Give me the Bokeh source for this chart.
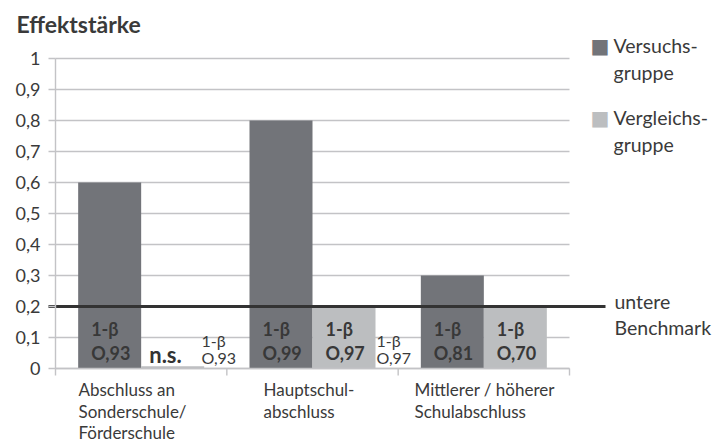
from bokeh.plotting import figure
from bokeh.models import Range1d, FixedTicker, CustomJSTickFormatter
from bokeh.core.properties import value
from bokeh.embed import file_html
from bokeh.resources import INLINE
import numpy as np

# ---- data ----
categories = [["Abschluss an", "Sonderschule/", "Förderschule"],
              ["Hauptschul-", "abschluss"],
              ["Mittlerer / höherer", "Schulabschluss"]]
versuch = [0.6, 0.8, 0.3]
vergleich = [0.007, 0.2, 0.2]
power_versuch = ["O,93", "O,99", "O,81"]
power_vergleich = ["", "O,97", "O,70"]
extra_power = ["O,93", "O,97"]
benchmark = 0.2
y_ticks = [0, 0.1, 0.2, 0.3, 0.4, 0.5, 0.6, 0.7, 0.8, 0.9, 1]
series_names = [["Versuchs-", "gruppe"], ["Vergleichs-", "gruppe"]]

# ---- style ----
FONT = "Lato"
DARK = "#727479"
LIGHT = "#BCBEC0"
GRID = "#C3C3C6"
TXT = "#3A3A3A"
W, H = 718, 443
X0, Y0 = 55, 368          # px of the plot area's bottom-left corner
CW, YH = 514 / 3, 310      # px per category, px per y unit
def dx(px):
    return (px - X0) / CW
def dy(py):
    return (Y0 - py) / YH

p = figure(width=W, height=H, min_border=0, output_backend="svg", toolbar_location=None,
           x_range=Range1d(dx(0), dx(W)), y_range=Range1d(dy(H), dy(0)))
p.outline_line_color = None
p.background_fill_color = "white"
p.xgrid.visible = False
p.ygrid.visible = False

n = len(categories)
# grid lines
p.segment(x0=[0] * len(y_ticks), x1=[n] * len(y_ticks), y0=y_ticks, y1=y_ticks,
          line_color=GRID, line_width=1.4)

bw = 63 / CW
idx = np.arange(n)
p.vbar(x=idx + 0.5 - bw / 2, top=versuch, width=bw, fill_color=DARK, line_color=None)
p.vbar(x=idx + 0.5 + bw / 2, top=vergleich, width=bw, fill_color=LIGHT, line_color=None)

# x axis line and category separators
p.segment(x0=[0], x1=[n], y0=[0], y1=[0], line_color=GRID, line_width=1.4)
p.segment(x0=list(range(n + 1)), x1=list(range(n + 1)), y0=[0] * (n + 1), y1=[dy(Y0 + 7)] * (n + 1),
          line_color=GRID, line_width=1.4)

# benchmark line
p.segment(x0=[dx(48)], x1=[dx(605)], y0=[benchmark], y1=[benchmark], line_color="#333333", line_width=3)

# y axis (fixed inside the canvas)
p.xaxis.visible = False
p.yaxis.fixed_location = 0
p.yaxis.bounds = (0, 1)
p.yaxis.ticker = FixedTicker(ticks=y_ticks)
p.yaxis.formatter = CustomJSTickFormatter(code="""
if (Math.abs(tick) < 1e-9) return '0';
if (Math.abs(tick-1) < 1e-9) return '1';
return tick.toFixed(1).replace('.', ',');
""")
p.yaxis.axis_line_color = GRID
p.yaxis.axis_line_width = 1.4
p.yaxis.major_tick_line_color = GRID
p.yaxis.major_tick_line_width = 1.4
p.yaxis.major_tick_out = 7
p.yaxis.major_tick_in = 0
p.yaxis.minor_tick_line_color = None
p.yaxis.major_label_text_font = FONT
p.yaxis.major_label_text_font_size = "18px"
p.yaxis.major_label_text_color = TXT
p.yaxis.major_label_standoff = 8

def txt(x, y, t, size="17px", bold=False, align="left", color=TXT, font=FONT):
    p.text(x=x, y=y, text=t, text_font=value(font), text_font_size=size,
           text_font_style="bold" if bold else "normal", text_color=color,
           text_align=align, text_baseline="middle")

# bar labels (bold, inside bars)
bx, btop, bbot = [], [], []
for i in range(n):
    for left, lab in ((i + 0.5 - bw, power_versuch[i]), (i + 0.5, power_vergleich[i])):
        if lab:
            bx.append(left + 13 / CW)
            btop.append("1-β")
            bbot.append(lab)
txt(bx, [dy(328)] * len(bx), btop, size="18px", bold=True, color="#383838")
txt(bx, [dy(352)] * len(bx), bbot, size="18px", bold=True, color="#383838")

# n.s.
txt([dx(165)], [dy(354)], ["n.s."], size="22px", bold=True, align="center", color="#333333")

# extra power labels (regular)
ex = [dx(201), dx(376)]
txt(ex, [dy(340)] * 2, ["1-β"] * 2, size="16px")
txt(ex, [dy(357)] * 2, extra_power, size="16px")

# category labels
cat_left = [78, 263, 414]
line_y = [389, 411, 432]
for i, lines in enumerate(categories):
    txt([dx(cat_left[i])] * len(lines), [dy(line_y[j]) for j in range(len(lines))], lines)

# benchmark label
txt([dx(614)] * 2, [dy(301), dy(327)], ["untere", "Benchmark"], size="19.5px")

# legend
for (l1, l2), col, yy in ((series_names[0], DARK, 45), (series_names[1], LIGHT, 117)):
    txt([dx(590)], [dy(yy)], ["■"], size="20px", color=col, font="DejaVu Sans")
    txt([dx(613)] * 2, [dy(yy), dy(yy + 27)], [l1, l2], size="19.5px")

# title
txt([dx(16)], [dy(23)], ["Effektstärke"], size="23px", bold=True)

open("out.html", "w").write(file_html(p, INLINE))
